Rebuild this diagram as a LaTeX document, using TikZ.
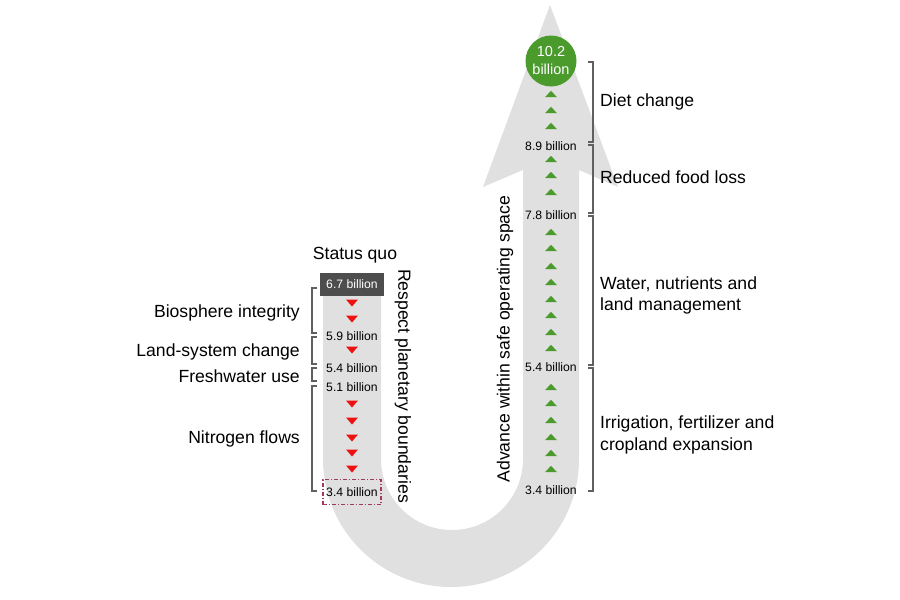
\documentclass[tikz,border=0pt]{standalone}
\usepackage{fontspec}
\setmainfont{Liberation Sans}
\definecolor{bandgray}{HTML}{E0E0E0}
\definecolor{leafgreen}{HTML}{4A9A2C}
\definecolor{darkbox}{HTML}{4D4D4D}
\definecolor{boxred}{HTML}{A33A55}
\definecolor{brk}{HTML}{606060}
\definecolor{tri}{HTML}{EE1111}
\tikzset{
  big/.style={font=\fontsize{17.6}{21.5}\selectfont, inner sep=0pt},
  small/.style={font=\fontsize{12.2}{14}\selectfont, inner sep=0pt},
  bracket/.style={draw=brk, line width=1.1pt},
  dtri/.pic={\fill[tri] (-6,-3.5) -- (6,-3.5) -- (0,3.5) -- cycle;},
  utri/.pic={\fill[leafgreen] (-6,3.2) -- (6,3.2) -- (0,-3.2) -- cycle;}
}
\begin{document}
\begin{tikzpicture}[x=1pt,y=-1pt]
\useasboundingbox (0,0) rectangle (900,600);
% U-shaped band with arrowhead
\fill[bandgray] (323,273) -- (323,459)
  arc[start angle=180,end angle=0,radius=128]
  -- (579,170) -- (618,187) -- (550,5) -- (483,187) -- (523,170) -- (523,459)
  arc[start angle=0,end angle=180,radius=71]
  -- (381,273) -- cycle;

% Left column
\node[big] (sq) at (355,255.5) {Status quo};
\node[small, fill=darkbox, text=white, minimum width=64pt, minimum height=23pt] (l67) at (352,284.5) {6.7 billion};
\pic at (352,303) {dtri};
\pic at (352,319) {dtri};
\node[small] (l59) at (352,336.5) {5.9 billion};
\pic at (352,350) {dtri};
\node[small] (l54) at (352,368.5) {5.4 billion};
\node[small] (l51) at (352,387.5) {5.1 billion};
\foreach \yy in {404,421,438,453,469} {\pic at (352,\yy) {dtri};}
\node[small, draw=boxred, line width=1.1pt, dash pattern=on 4pt off 2pt on 1pt off 2pt, minimum width=58pt, minimum height=25pt] (l34) at (352,492) {3.4 billion};

% Left brackets
\draw[bracket] (317,288) -- (312,288) -- (312,333) -- (317,333);
\draw[bracket] (317,337) -- (312,337) -- (312,364) -- (317,364);
\draw[bracket] (317,368) -- (312,368) -- (312,381) -- (317,381);
\draw[bracket] (317,386) -- (312,386) -- (312,491) -- (317,491);
\node[big, anchor=east] (bio) at (300,313) {Biosphere integrity};
\node[big, anchor=east] (land) at (300,352) {Land-system change};
\node[big, anchor=east] (fresh) at (300,376) {Freshwater use};
\node[big, anchor=east] (nitro) at (300,438.5) {Nitrogen flows};

\node[big, rotate=-90] (respect) at (403,386) {Respect planetary boundaries};
\node[big, rotate=90] (advance) at (505,339) {Advance within safe operating space};

% Right column
\node[circle, fill=leafgreen, text=white, minimum size=51pt, inner sep=0pt, align=center, font=\fontsize{14.5}{18}\selectfont] (r102) at (551,61) {10.2\\billion};
\foreach \yy in {94,110,126} {\pic at (551,\yy) {utri};}
\node[small] (r89) at (551,146.5) {8.9 billion};
\foreach \yy in {159,175,192} {\pic at (551,\yy) {utri};}
\node[small] (r78) at (551,215.5) {7.8 billion};
\foreach \yy in {232,248,266,282,299,315,332,348} {\pic at (551,\yy) {utri};}
\node[small] (r54) at (551,367.5) {5.4 billion};
\foreach \yy in {387,403,420,437,453,469} {\pic at (551,\yy) {utri};}
\node[small] (r34) at (551,490.5) {3.4 billion};

% Right brackets
\draw[bracket] (588,62) -- (593,62) -- (593,142) -- (588,142);
\draw[bracket] (588,145) -- (593,145) -- (593,213) -- (588,213);
\draw[bracket] (588,216) -- (593,216) -- (593,365) -- (588,365);
\draw[bracket] (588,368) -- (593,368) -- (593,491) -- (588,491);
\node[big, anchor=west] (diet) at (600,102) {Diet change};
\node[big, anchor=west] (food) at (600,177) {Reduced food loss};
\node[big, anchor=west, align=left] (water) at (600,295.5) {Water, nutrients and\\land management};
\node[big, anchor=west, align=left] (irrig) at (600,435) {Irrigation, fertilizer and\\cropland expansion};
\end{tikzpicture}
\end{document}
